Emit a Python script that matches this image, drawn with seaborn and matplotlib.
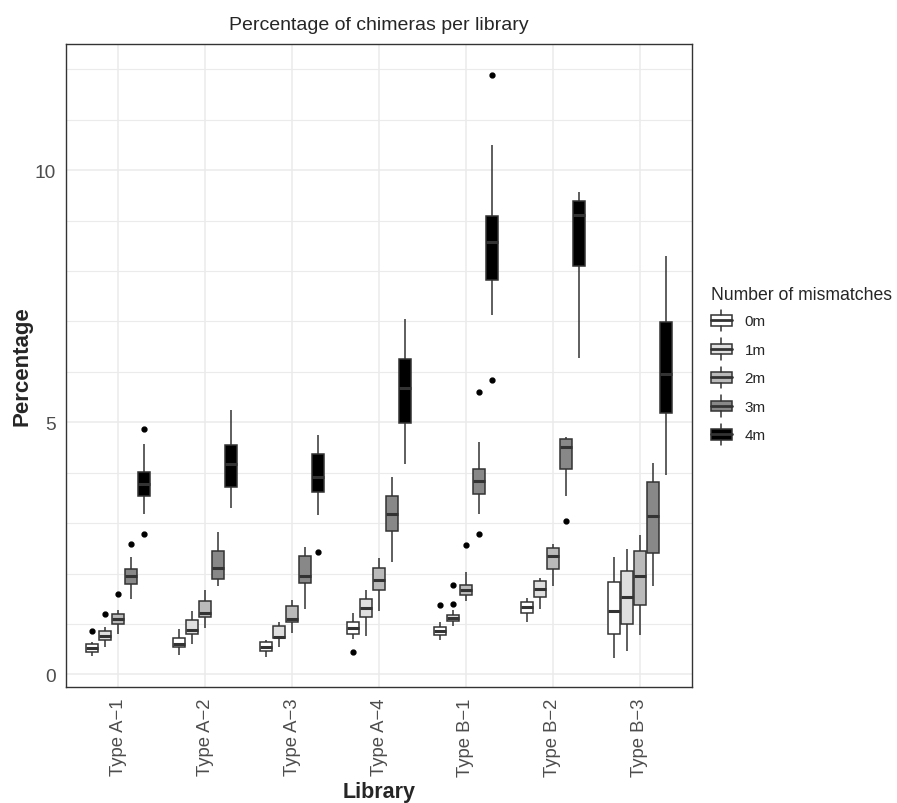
import numpy as np
import pandas as pd
import seaborn as sns
import matplotlib.pyplot as plt
from matplotlib.patches import Patch, Rectangle
from matplotlib.lines import Line2D
from matplotlib.legend_handler import HandlerBase
from matplotlib.ticker import MultipleLocator

#Data | percentage of chimeras per sample, one list per mismatch level (0m..4m)
libraries = ["Type A−1", "Type A−2", "Type A−3", "Type A−4", "Type B−1", "Type B−2", "Type B−3"]
mismatches = ["0m", "1m", "2m", "3m", "4m"]
fill_colors = ["#FFFFFF", "#DFDFDF", "#BABABA", "#888888", "#000000"]

type_a1 = [
    [0.37, 0.41, 0.45, 0.49, 0.52, 0.56, 0.60, 0.65, 0.87],
    [0.55, 0.63, 0.68, 0.73, 0.77, 0.82, 0.86, 0.93, 1.20],
    [0.81, 0.92, 0.99, 1.05, 1.10, 1.15, 1.19, 1.27, 1.59],
    [1.49, 1.65, 1.80, 1.88, 1.95, 2.02, 2.08, 2.32, 2.59],
    [2.78, 3.19, 3.54, 3.66, 3.77, 3.90, 4.01, 4.57, 4.86],
]
type_a2 = [
    [0.39, 0.48, 0.55, 0.58, 0.60, 0.67, 0.73, 0.82, 0.90],
    [0.60, 0.72, 0.81, 0.85, 0.88, 0.97, 1.07, 1.16, 1.25],
    [0.91, 1.05, 1.14, 1.18, 1.21, 1.33, 1.46, 1.57, 1.67],
    [1.75, 1.83, 1.90, 2.00, 2.11, 2.28, 2.45, 2.64, 2.83],
    [3.30, 3.52, 3.71, 3.95, 4.17, 4.36, 4.55, 4.90, 5.24],
]
type_a3 = [
    [0.34, 0.42, 0.47, 0.51, 0.55, 0.60, 0.64, 0.66, 0.68],
    [0.55, 0.66, 0.72, 0.74, 0.75, 0.86, 0.96, 1.00, 1.04],
    [0.83, 0.95, 1.04, 1.07, 1.09, 1.22, 1.35, 1.41, 1.47],
    [1.29, 1.60, 1.82, 1.89, 1.95, 2.15, 2.34, 2.44, 2.53],
    [2.42, 3.16, 3.61, 3.76, 3.91, 4.14, 4.37, 4.56, 4.75],
]
type_a4 = [
    [0.44, 0.70, 0.80, 0.86, 0.91, 0.97, 1.03, 1.12, 1.21],
    [0.77, 0.98, 1.14, 1.23, 1.32, 1.41, 1.49, 1.59, 1.68],
    [1.26, 1.48, 1.67, 1.78, 1.88, 2.00, 2.11, 2.21, 2.30],
    [2.22, 2.55, 2.84, 3.02, 3.19, 3.37, 3.54, 3.73, 3.91],
    [4.17, 4.60, 4.98, 5.35, 5.67, 5.98, 6.26, 6.65, 7.05],
]
type_b1 = [
    [0.68, 0.74, 0.79, 0.83, 0.87, 0.90, 0.94, 1.04, 1.38],
    [0.96, 1.00, 1.03, 1.06, 1.08, 1.10, 1.12, 1.14, 1.16, 1.18, 1.27, 1.39, 1.78],
    [1.45, 1.52, 1.57, 1.63, 1.68, 1.73, 1.78, 2.04, 2.56],
    [2.79, 3.18, 3.57, 3.70, 3.83, 3.95, 4.07, 4.61, 5.60],
    [5.84, 7.13, 7.83, 8.20, 8.57, 8.85, 9.08, 10.49, 11.89],
]
type_b2 = [
    [1.04, 1.15, 1.22, 1.28, 1.33, 1.39, 1.44, 1.48, 1.52],
    [1.30, 1.43, 1.53, 1.62, 1.69, 1.78, 1.86, 1.89, 1.91],
    [1.76, 1.95, 2.08, 2.22, 2.34, 2.43, 2.51, 2.55, 2.58],
    [3.05, 3.54, 4.07, 4.30, 4.50, 4.60, 4.67, 4.69, 4.71],
    [6.28, 7.30, 8.10, 8.70, 9.11, 9.25, 9.38, 9.48, 9.57],
]
type_b3 = [
    [0.32, 0.58, 0.80, 1.02, 1.25, 1.55, 1.83, 2.08, 2.32],
    [0.47, 0.75, 1.00, 1.28, 1.53, 1.80, 2.05, 2.28, 2.49],
    [0.78, 1.08, 1.37, 1.68, 1.96, 2.20, 2.44, 2.61, 2.77],
    [1.75, 2.08, 2.40, 2.80, 3.15, 3.50, 3.82, 4.01, 4.19],
    [3.96, 4.60, 5.19, 5.60, 5.96, 6.50, 6.99, 7.65, 8.29],
]
all_libs = [type_a1, type_a2, type_a3, type_a4, type_b1, type_b2, type_b3]

rows = []
for lib, groups in zip(libraries, all_libs):
    for mm, vals in zip(mismatches, groups):
        for v in vals:
            rows.append((lib, mm, v))
df = pd.DataFrame(rows, columns=["Library", "Mismatches", "Percentage"])

#Style
sns.set_style("white")
plt.rcParams['font.family'] = ['Liberation Sans', 'DejaVu Sans']
edge = "#333333"

fig = plt.figure(figsize=(8.97, 8.04), dpi=100)
ax = fig.add_axes([66/897, 1-688/804, (692-66)/897, (688-45)/804])

sns.boxplot(data=df, x="Library", y="Percentage", hue="Mismatches",
            order=libraries, hue_order=mismatches, palette=fill_colors,
            saturation=1, width=0.75, gap=0.06, linecolor=edge, linewidth=1.1,
            whis=1.5, legend=False, ax=ax,
            medianprops={"linewidth": 2.2, "color": edge},
            capprops={"linewidth": 0},
            flierprops={"marker": "o", "markersize": 3.5,
                        "markerfacecolor": "black", "markeredgecolor": "black"})

ax.set_xlim(-0.6, 6.6)
ax.set_ylim(-0.25, 12.5)
ax.set_yticks([0, 5, 10])
ax.yaxis.set_minor_locator(MultipleLocator(1))
ax.set_axisbelow(True)
ax.grid(which="major", color="#EBEBEB", linewidth=1.1)
ax.grid(which="minor", axis="y", color="#EBEBEB", linewidth=0.8)
ax.tick_params(which="major", length=4, width=1, color=edge, labelcolor="#4D4D4D", labelsize=13.8)
ax.tick_params(which="minor", length=0)
ax.tick_params(axis="x", labelrotation=90, labelsize=13.3)
for s in ax.spines.values():
    s.set_visible(True)
    s.set_color(edge)
    s.set_linewidth(1.0)

ax.set_title("Percentage of chimeras per library", fontsize=14, pad=11)
ax.set_xlabel("Library", fontsize=15.5, fontweight="bold", va="bottom")
ax.xaxis.set_label_coords(0.5, -0.179)
ax.set_ylabel("Percentage", fontsize=16, fontweight="bold", labelpad=1)

#Legend with little boxplot keys
class BoxHandler(HandlerBase):
    def create_artists(self, legend, orig_handle, xdescent, ydescent, width, height, fontsize, trans):
        x0, y0 = -xdescent, -ydescent
        rect = Rectangle((x0, y0 + height*0.25), width, height*0.5,
                         facecolor=orig_handle.get_facecolor(), edgecolor=edge, lw=1.1, transform=trans)
        med = Line2D([x0, x0 + width], [y0 + height*0.5]*2, color=edge, lw=2, transform=trans)
        wl = Line2D([x0 + width/2]*2, [y0, y0 + height*0.25], color=edge, lw=1.1, transform=trans)
        wh = Line2D([x0 + width/2]*2, [y0 + height*0.75, y0 + height], color=edge, lw=1.1, transform=trans)
        return [rect, med, wl, wh]

handles = [Patch(facecolor=c, edgecolor=edge) for c in fill_colors]
ax.legend(handles, mismatches, title="Number of mismatches", handler_map={Patch: BoxHandler()},
          loc="center left", bbox_to_anchor=(1.03, 0.5), frameon=False, borderaxespad=0,
          borderpad=0, fontsize=11, title_fontsize=12.7, alignment="left",
          handlelength=1.4, handleheight=1.8, labelspacing=0.45, handletextpad=0.8)

plt.savefig("out.png", dpi=100)
